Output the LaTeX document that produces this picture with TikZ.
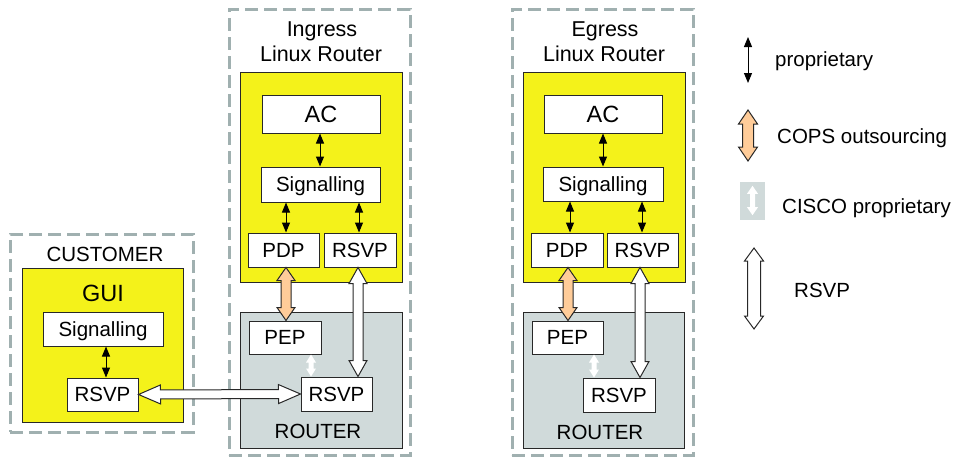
\documentclass[tikz,border=0pt]{standalone}
\usepackage{fontspec}
\setmainfont{Liberation Sans}
\usetikzlibrary{calc,arrows.meta}

\definecolor{cyel}{RGB}{244,242,26}
\definecolor{cgrey}{RGB}{208,218,218}
\definecolor{cdash}{RGB}{160,176,176}
\definecolor{corange}{RGB}{255,204,153}
\definecolor{cline}{RGB}{40,40,40}

\tikzset{
  frame/.style={draw=cdash, line width=3pt, dash pattern=on 13pt off 6pt, inner sep=0pt},
  zone/.style={draw=cline, line width=1pt, inner sep=0pt},
  yzone/.style={zone, fill=cyel},
  gzone/.style={zone, fill=cgrey},
  box/.style={draw=cline, fill=white, line width=1pt, inner sep=0pt,
    font=\fontsize{20.5}{24}\selectfont, text height=14.5pt, text depth=0pt},
  bigbox/.style={box, font=\fontsize{23.5}{27}\selectfont, text height=17pt},
  lbl/.style={inner sep=0pt, anchor=base, font=\fontsize{20.5}{24}\selectfont},
  title/.style={lbl, font=\fontsize{21.5}{25}\selectfont},
  leg/.style={inner sep=0pt, anchor=base west, font=\fontsize{20.5}{24}\selectfont},
  prop/.style={line width=1pt, {Triangle[width=8pt,length=10pt]}-{Triangle[width=8pt,length=10pt]}},
  % double-headed block arrow: head length, half head width, half shaft width
  fat/.style n args={3}{line width=1pt, line join=miter, to path={
    -- ($(\tikztostart)!#1!(\tikztotarget)!#2!90:(\tikztotarget)$)
    -- ($(\tikztostart)!#1!(\tikztotarget)!#3!90:(\tikztotarget)$)
    -- ($(\tikztotarget)!#1!(\tikztostart)!#3!-90:(\tikztostart)$)
    -- ($(\tikztotarget)!#1!(\tikztostart)!#2!-90:(\tikztostart)$)
    -- (\tikztotarget)
    -- ($(\tikztotarget)!#1!(\tikztostart)!#2!90:(\tikztostart)$)
    -- ($(\tikztotarget)!#1!(\tikztostart)!#3!90:(\tikztostart)$)
    -- ($(\tikztostart)!#1!(\tikztotarget)!#3!-90:(\tikztotarget)$)
    -- ($(\tikztostart)!#1!(\tikztotarget)!#2!-90:(\tikztotarget)$)
    -- cycle}},
  cops/.style={fat={13pt}{9pt}{5pt}, draw=cline, fill=corange},
  rsvpv/.style={fat={16pt}{9pt}{5pt}, draw=cline, fill=white},
  rsvph/.style={fat={22pt}{9.5pt}{4.5pt}, draw=cline, fill=white},
  cisco/.style={fat={8pt}{5pt}{2.5pt}, draw=none, fill=white},
}

\begin{document}
\begin{tikzpicture}[x=1pt,y=-1pt]
\useasboundingbox (0,0) rectangle (953,458);

% ---------------- customer ----------------
\node[frame, minimum width=183pt, minimum height=198pt] (custframe) at (101.5,333) {};
\node[lbl] (custlbl) at (105,261) {CUSTOMER};
\node[yzone, minimum width=161pt, minimum height=154pt] (gui) at (102.5,345) {};
\node[lbl, font=\fontsize{23.5}{27}\selectfont] (guilbl) at (103,301) {GUI};
\node[box, minimum width=120pt, minimum height=34pt] (csig) at (103,329) {Signalling};
\node[box, minimum width=71pt, minimum height=33pt] (crsvp) at (102.5,394.5) {RSVP};

% ---------------- ingress router ----------------
\node[frame, minimum width=181pt, minimum height=446pt] (inframe) at (319.5,232) {};
\node[title] (intitleA) at (322,36.7) {Ingress};
\node[title] (intitleB) at (321,61.7) {Linux Router};
\node[yzone, minimum width=162pt, minimum height=210pt] (inlinux) at (321,177) {};
\node[bigbox, minimum width=118pt, minimum height=38pt] (iac) at (321,114) {AC};
\node[box, minimum width=119pt, minimum height=35pt] (isig) at (320.5,184.5) {Signalling};
\node[box, minimum width=71pt, minimum height=34pt] (ipdp) at (283.5,250) {PDP};
\node[box, minimum width=72pt, minimum height=34pt] (irsvp) at (360,250) {RSVP};
\node[gzone, minimum width=162pt, minimum height=136pt] (inrouter) at (321,380) {};
\node[box, minimum width=72pt, minimum height=33pt] (ipep) at (285,337.5) {PEP};
\node[box, minimum width=71pt, minimum height=34pt] (irr) at (336.5,394) {RSVP};
\node[lbl] (inrouterlbl) at (318,438) {ROUTER};

% ---------------- egress router ----------------
\node[frame, minimum width=181pt, minimum height=446pt] (egframe) at (602.5,232) {};
\node[title] (egtitleA) at (605,36.7) {Egress};
\node[title] (egtitleB) at (604,61.7) {Linux Router};
\node[yzone, minimum width=162pt, minimum height=210pt] (eglinux) at (604,177) {};
\node[bigbox, minimum width=118pt, minimum height=38pt] (eac) at (603,114) {AC};
\node[box, minimum width=120pt, minimum height=34pt] (esig) at (603,184) {Signalling};
\node[box, minimum width=72pt, minimum height=34pt] (epdp) at (567,250) {PDP};
\node[box, minimum width=71pt, minimum height=34pt] (ersvp) at (642.5,250) {RSVP};
\node[gzone, minimum width=161pt, minimum height=136pt] (egrouter) at (603.5,380) {};
\node[box, minimum width=71pt, minimum height=33pt] (epep) at (567.5,337.5) {PEP};
\node[box, minimum width=72pt, minimum height=34pt] (err) at (619,395) {RSVP};
\node[lbl] (egrouterlbl) at (600,439) {ROUTER};

% columns used by the vertical connectors
\coordinate (cx)   at (106,0);
\coordinate (iacx) at (320,0);
\coordinate (ipx)  at (286,0);
\coordinate (irx)  at (359,0);
\coordinate (iwx)  at (358,0);
\coordinate (icx)  at (311,0);
\coordinate (eacx) at (603,0);
\coordinate (epx)  at (570,0);
\coordinate (eox)  at (568,0);
\coordinate (erx)  at (642,0);
\coordinate (ewx)  at (640,0);
\coordinate (ecx)  at (594,0);

% proprietary links
\draw[prop] (csig.south -| cx) -- (crsvp.north -| cx);
\draw[prop] (iac.south -| iacx) -- (isig.north -| iacx);
\draw[prop] (isig.south -| ipx) -- (ipdp.north -| ipx);
\draw[prop] (isig.south -| irx) -- (irsvp.north -| irx);
\draw[prop] (eac.south -| eacx) -- (esig.north -| eacx);
\draw[prop] (esig.south -| epx) -- (epdp.north -| epx);
\draw[prop] (esig.south -| erx) -- (ersvp.north -| erx);

% COPS outsourcing
\draw[cops] (ipdp.south -| ipx) to (ipep.north -| ipx);
\draw[cops] (epdp.south -| eox) to (epep.north -| eox);

% CISCO proprietary
\draw[cisco] (ipep.south -| icx) to (irr.north -| icx);
\draw[cisco] (epep.south -| ecx) to (err.north -| ecx);

% RSVP
\draw[rsvpv] (irsvp.south -| iwx) to (irr.north -| iwx);
\draw[rsvpv] (ersvp.south -| ewx) to (err.north -| ewx);
\draw[rsvph] (crsvp.east) to (irr.west);

% ---------------- legend ----------------
\coordinate (l1a) at (748,37);
\coordinate (l1b) at (748,83);
\draw[prop] (l1a) -- (l1b);
\node[leg] (l1t) at (775,66) {proprietary};

\coordinate (l2a) at (748,110);
\coordinate (l2b) at (748,161);
\draw[fat={14pt}{9.5pt}{5.5pt}, draw=cline, fill=corange] (l2a) to (l2b);
\node[leg] (l2t) at (777,143) {COPS outsourcing};

\node[fill=cgrey, inner sep=0pt, minimum width=25pt, minimum height=38pt] (l3box) at (752.5,201) {};
\draw[fat={8pt}{5.5pt}{2.5pt}, draw=none, fill=white] ([yshift=-4pt]l3box.north) to ([yshift=5pt]l3box.south);
\node[leg] (l3t) at (782,213) {CISCO proprietary};

\coordinate (l4a) at (754,248);
\coordinate (l4b) at (754,329);
\draw[fat={13pt}{9.5pt}{6.5pt}, draw=cline, fill=white] (l4a) to (l4b);
\node[leg] (l4t) at (794,297) {RSVP};
\end{tikzpicture}
\end{document}
